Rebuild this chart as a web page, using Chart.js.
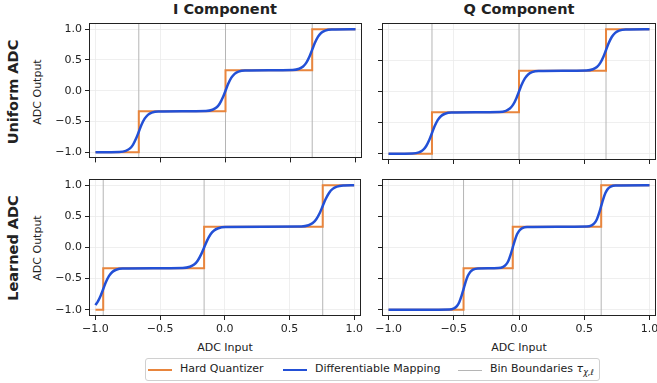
<!DOCTYPE html>
<html>
<head>
<meta charset="utf-8">
<script src="https://cdn.jsdelivr.net/npm/chart.js@4.4.1/dist/chart.umd.min.js"></script>
<style>
  body { margin: 0; background: #fff; font-family: 'DejaVu Sans', sans-serif; color: #222; }
  #wrap { position: relative; width: 657px; height: 383px; overflow: hidden; }
  canvas { position: absolute; }
  .txt { position: absolute; white-space: nowrap; transform: translate(-50%, -50%); }
  .rot { transform: translate(-50%, -50%) rotate(-90deg); }
  .ttl { font-weight: bold; font-size: 14.5px; }
  .lbl { font-size: 11px; }
  #legend { position: absolute; left: 145px; top: 358px; width: 453px; height: 21px;
            border: 1px solid #d0d0d0; border-radius: 3px; font-size: 11px; }
  #legend .ln { position: absolute; top: 10px; width: 24px; }
  #legend .tx { position: absolute; top: 3px; white-space: nowrap; }
</style>
</head>
<body>
<div id="wrap">
  <div class="txt ttl" style="left:225px; top:9px;">I Component</div>
  <div class="txt ttl" style="left:519px; top:9px;">Q Component</div>
  <div class="txt ttl rot" style="left:13px; top:92px;">Uniform ADC</div>
  <div class="txt ttl rot" style="left:13px; top:248px;">Learned ADC</div>
  <div class="txt lbl rot" style="left:37px; top:92px;">ADC Output</div>
  <div class="txt lbl rot" style="left:37px; top:248px;">ADC Output</div>
  <div class="txt lbl" style="left:225px; top:347px;">ADC Input</div>
  <div class="txt lbl" style="left:519px; top:347px;">ADC Input</div>

  <canvas id="c00"></canvas>
  <canvas id="c01"></canvas>
  <canvas id="c10"></canvas>
  <canvas id="c11"></canvas>

  <div id="legend">
    <div class="ln" style="left:2px; border-top:2px solid #e8853d;"></div>
    <div class="tx" style="left:34px;">Hard Quantizer</div>
    <div class="ln" style="left:137px; border-top:2.5px solid #2350d6; top:9.5px;"></div>
    <div class="tx" style="left:169px;">Differentiable Mapping</div>
    <div class="ln" style="left:312px; border-top:1px solid #b5b5b5; top:10.5px;"></div>
    <div class="tx" style="left:344px;">Bin Boundaries <i>τ</i><sub style="font-size:8px;"><i>χ,ℓ</i></sub></div>
  </div>
</div>

<script>
// axis ticks
var xTicks = [-1, -0.5, 0, 0.5, 1];
var yTicks = [-1, -0.5, 0, 0.5, 1];

// quantizer output levels
var levels = [-1, -1/3, 1/3, 1];

// bin boundaries per panel
var uniformBounds = [-0.667, 0, 0.667];
var learnedIBounds = [-0.94, -0.16, 0.757];
var learnedQBounds = [-0.425, -0.048, 0.63];

// differentiable mapping
var uniformSoftX = [-1.0, -0.817, -0.767, -0.737, -0.712, -0.687, -0.667, -0.647, -0.622, -0.597, -0.567, -0.517,
                    -0.15, -0.1, -0.07, -0.045, -0.02, 0, 0.02, 0.045, 0.07, 0.1, 0.15,
                    0.517, 0.567, 0.597, 0.622, 0.647, 0.667, 0.687, 0.712, 0.737, 0.767, 0.817, 1.0];
var uniformSoftY = [-1.0, -0.995, -0.977, -0.941, -0.879, -0.774, -0.667, -0.559, -0.455, -0.393, -0.357, -0.338,
                    -0.329, -0.31, -0.274, -0.212, -0.107, 0, 0.107, 0.212, 0.274, 0.31, 0.329,
                    0.338, 0.357, 0.393, 0.455, 0.559, 0.667, 0.774, 0.879, 0.941, 0.977, 0.995, 1.0];

var learnedISoftX = [-1.0, -0.98, -0.96, -0.94, -0.92, -0.895, -0.87, -0.84, -0.79,
                     -0.325, -0.27, -0.237, -0.21, -0.182, -0.16, -0.138, -0.11, -0.083, -0.05, 0.005,
                     0.592, 0.647, 0.68, 0.707, 0.735, 0.757, 0.779, 0.807, 0.834, 0.867, 0.922, 1.0];
var learnedISoftY = [-0.925, -0.861, -0.774, -0.667, -0.559, -0.455, -0.393, -0.357, -0.338,
                     -0.329, -0.31, -0.274, -0.212, -0.107, 0, 0.107, 0.212, 0.274, 0.31, 0.329,
                     0.338, 0.357, 0.393, 0.455, 0.559, 0.667, 0.774, 0.879, 0.941, 0.977, 0.995, 1.0];

var learnedQSoftX = [-1.0, -0.535, -0.498, -0.476, -0.458, -0.44, -0.425, -0.41, -0.392, -0.374, -0.352, -0.315,
                     -0.158, -0.121, -0.099, -0.081, -0.063, -0.048, -0.033, -0.015, 0.003, 0.025, 0.062,
                     0.52, 0.557, 0.579, 0.597, 0.615, 0.63, 0.645, 0.663, 0.681, 0.703, 0.74, 1.0];
var learnedQSoftY = [-1.0, -0.995, -0.977, -0.941, -0.879, -0.774, -0.667, -0.559, -0.455, -0.393, -0.357, -0.338,
                     -0.329, -0.31, -0.274, -0.212, -0.107, 0, 0.107, 0.212, 0.274, 0.31, 0.329,
                     0.338, 0.357, 0.393, 0.455, 0.559, 0.667, 0.774, 0.879, 0.941, 0.977, 0.995, 1.0];

var xMin = -1.05, xMax = 1.05, yMin = -1.1, yMax = 1.1;

Chart.defaults.font.family = "'DejaVu Sans', sans-serif";
Chart.defaults.font.size = 11;
Chart.defaults.color = '#222';

function fmt(v) {
  return v.toFixed(1).replace('-', '\u2212');
}

function hardData(bounds) {
  var pts = [{x: -1, y: levels[0]}];
  for (var i = 0; i < bounds.length; i++) {
    pts.push({x: bounds[i], y: levels[i]});
    pts.push({x: bounds[i], y: levels[i + 1]});
  }
  pts.push({x: 1, y: levels[levels.length - 1]});
  return pts;
}

function binData(bounds) {
  var pts = [];
  bounds.forEach(function(b) {
    pts.push({x: b, y: yMin}, {x: b, y: yMax}, {x: b, y: null});
  });
  return pts;
}

function softData(xs, ys) {
  return xs.map(function(x, i) { return {x: x, y: ys[i]}; });
}

var frame = {
  id: 'frame',
  afterDatasetsDraw: function(chart) {
    var a = chart.chartArea, ctx = chart.ctx;
    ctx.save();
    ctx.strokeStyle = '#222';
    ctx.lineWidth = 1;
    ctx.strokeRect(Math.round(a.left) + 0.5, Math.round(a.top) + 0.5,
                   Math.round(a.right - a.left) - 1, Math.round(a.bottom - a.top) - 1);
    ctx.restore();
  }
};

// canvas boxes; chart areas land at x 89-362 / 382-656, y 23-160 / 179-316
var panels = [
  {id: 'c00', left: 44,  top: 11,  w: 322, h: 157, yW: 45, xH: 8,  padR: 4,  showX: false, showY: true,
   bounds: uniformBounds, sx: uniformSoftX, sy: uniformSoftY},
  {id: 'c01', left: 362, top: 11,  w: 305, h: 157, yW: 20, xH: 8,  padR: 11, showX: false, showY: false,
   bounds: uniformBounds, sx: uniformSoftX, sy: uniformSoftY},
  {id: 'c10', left: 44,  top: 167, w: 322, h: 173, yW: 45, xH: 24, padR: 4,  showX: true,  showY: true,
   bounds: learnedIBounds, sx: learnedISoftX, sy: learnedISoftY},
  {id: 'c11', left: 362, top: 167, w: 305, h: 173, yW: 20, xH: 24, padR: 11, showX: true,  showY: false,
   bounds: learnedQBounds, sx: learnedQSoftX, sy: learnedQSoftY}
];

var gridStyle = {color: '#ebebeb', lineWidth: 0.8, tickColor: '#222', tickWidth: 1, tickLength: 4, drawTicks: true};

panels.forEach(function(p) {
  var cv = document.getElementById(p.id);
  cv.width = p.w; cv.height = p.h;
  cv.style.left = p.left + 'px'; cv.style.top = p.top + 'px';
  cv.style.width = p.w + 'px'; cv.style.height = p.h + 'px';

  new Chart(cv.getContext('2d'), {
    type: 'line',
    data: {
      datasets: [
        {label: 'Differentiable Mapping', data: softData(p.sx, p.sy), borderColor: '#2350d6',
         borderWidth: 2.5, pointRadius: 0, cubicInterpolationMode: 'monotone', fill: false},
        {label: 'Hard Quantizer', data: hardData(p.bounds), borderColor: '#e8853d',
         borderWidth: 2, pointRadius: 0, tension: 0, fill: false},
        {label: 'Bin Boundaries', data: binData(p.bounds), borderColor: '#b5b5b5',
         borderWidth: 1, pointRadius: 0, spanGaps: false, fill: false}
      ]
    },
    options: {
      responsive: false,
      animation: false,
      devicePixelRatio: 1,
      layout: {padding: {top: 12, right: p.padR, bottom: 0, left: 0}},
      plugins: {legend: {display: false}, tooltip: {enabled: false}},
      scales: {
        x: {
          type: 'linear', min: xMin, max: xMax,
          afterBuildTicks: function(s) { s.ticks = xTicks.map(function(v) { return {value: v}; }); },
          afterFit: function(s) { s.height = p.xH; },
          grid: gridStyle,
          border: {display: false},
          ticks: {display: p.showX, padding: 3, maxRotation: 0, callback: function(v) { return fmt(v); }}
        },
        y: {
          type: 'linear', min: yMin, max: yMax,
          afterBuildTicks: function(s) { s.ticks = yTicks.map(function(v) { return {value: v}; }); },
          afterFit: function(s) { s.width = p.yW; },
          grid: gridStyle,
          border: {display: false},
          ticks: {display: p.showY, padding: 3, callback: function(v) { return fmt(v); }}
        }
      }
    },
    plugins: [frame]
  });
});
</script>
</body>
</html>
